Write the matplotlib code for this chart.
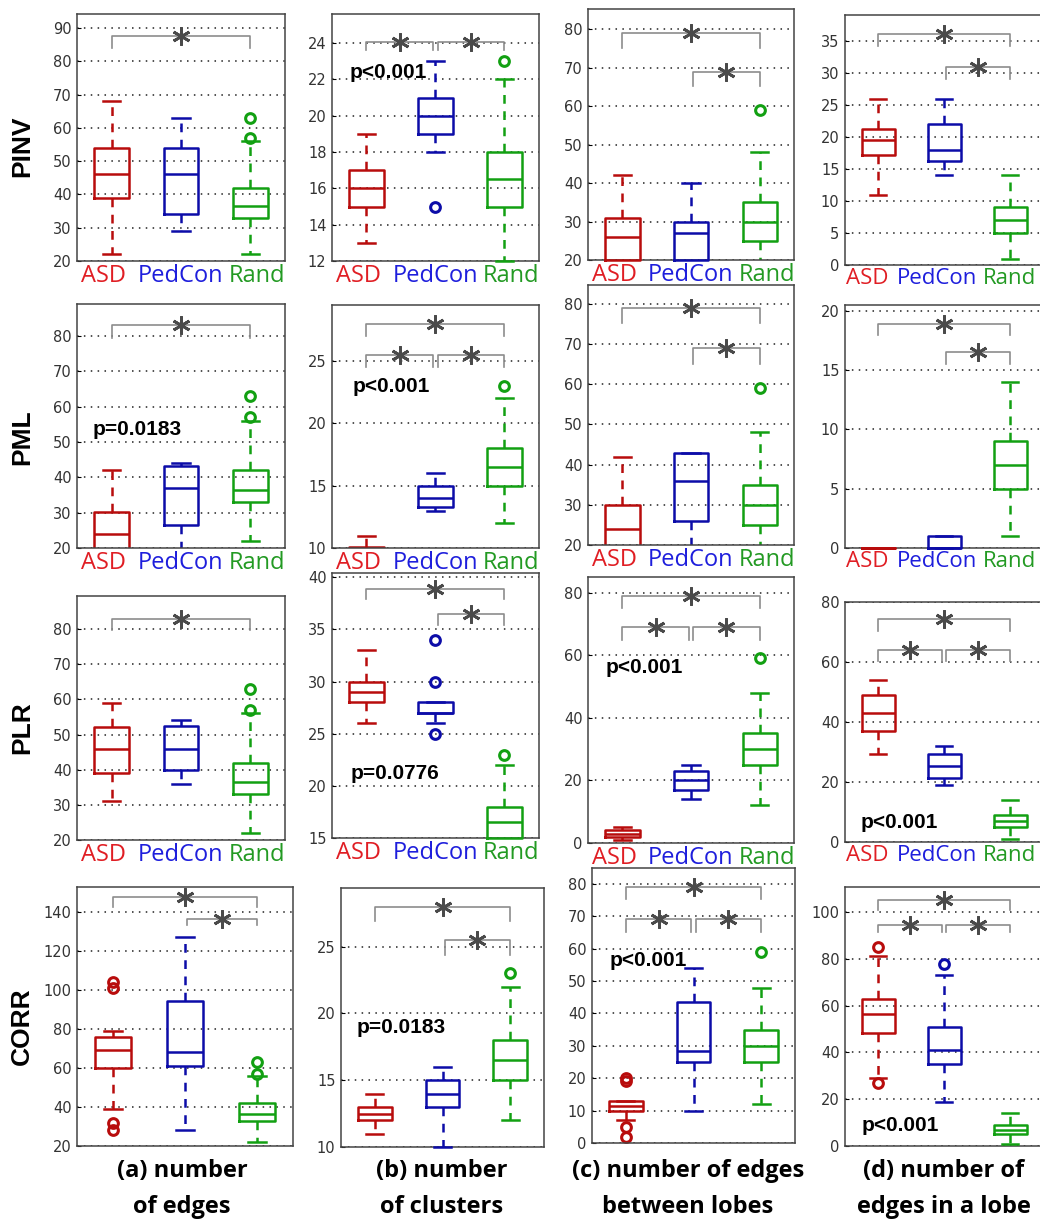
import matplotlib
matplotlib.use("Agg")
import matplotlib.pyplot as plt

groups = ["ASD", "PedCon", "Rand"]
methods = ["PINV", "PML", "PLR", "CORR"]
measure_titles = [("(a) number", "of edges"), ("(b) number", "of clusters"),
                  ("(c) number of edges", "between lobes"), ("(d) number of", "edges in a lobe")]

# box summaries per group: [whisker low, q1, median, q3, whisker high]
pinv_edges = [[22, 39, 46, 54, 68], [29, 34, 46, 54, 63], [22, 33, 36.5, 42, 56]]
pinv_clusters = [[13, 15, 16, 17, 19], [18, 19, 20, 21, 23], [12, 15, 16.5, 18, 22]]
pinv_between = [[14, 20, 26, 31, 42], [14, 20, 27, 30, 40], [12, 25, 30, 35, 48]]
pinv_inlobe = [[11, 17.2, 19.6, 21.2, 26], [14, 16.3, 18, 22, 26], [1, 5, 7, 9, 14]]
pml_edges = [[14, 18, 24, 30.3, 42], [16, 26.4, 37, 43.2, 44], [22, 33, 36.5, 42, 56]]
pml_clusters = [[8, 9, 9.5, 10.05, 11], [13, 13.3, 14, 15, 16], [12, 15, 16.5, 18, 22]]
pml_between = [[14, 18, 24, 30, 42], [16, 26, 36, 43, 43], [12, 25, 30, 35, 48]]
pml_inlobe = [[0, 0, 0, 0, 0], [0, 0, 0, 1, 1], [1, 5, 7, 9, 14]]
plr_edges = [[31, 39, 46, 52, 59], [36, 40, 46, 52.4, 54], [22, 33, 36.5, 42, 56]]
plr_clusters = [[26, 28, 29, 30, 33], [26, 27, 27, 28, 28], [12, 15, 16.5, 18, 22]]
plr_between = [[1, 2, 3, 4, 5], [14, 17, 20, 23, 25], [12, 25, 30, 35, 48]]
plr_inlobe = [[29.5, 37, 43, 49, 54], [19, 21.5, 25.5, 29.5, 32], [1, 5, 7, 9, 14]]
corr_edges = [[39, 60, 69, 76, 79], [28, 61, 68, 94.5, 127], [22, 33, 36.5, 42, 56]]
corr_clusters = [[11, 12, 12.5, 13, 14], [10, 13, 14, 15, 16], [12, 15, 16.5, 18, 22]]
corr_between = [[7, 10, 11.5, 13, 13], [10, 25, 28.5, 43.5, 54], [12, 25, 30, 35, 48]]
corr_inlobe = [[29, 48.5, 56.5, 63, 81], [19, 35, 41, 51, 73], [1, 5, 7, 9, 14]]

# outliers per group
pinv_edges_out = [[], [], [57, 63]]
pinv_clusters_out = [[], [15], [23]]
pinv_between_out = [[], [], [59]]
pinv_inlobe_out = [[], [], []]
pml_edges_out = [[], [], [57, 63]]
pml_clusters_out = [[], [], [23]]
pml_between_out = [[], [], [59]]
pml_inlobe_out = [[], [], []]
plr_edges_out = [[], [], [57, 63]]
plr_clusters_out = [[], [25, 30, 34], [23]]
plr_between_out = [[], [], [59]]
plr_inlobe_out = [[], [], []]
corr_edges_out = [[28, 32, 101, 104], [], [57, 63]]
corr_clusters_out = [[], [], [23]]
corr_between_out = [[2, 5, 19, 20], [], [59]]
corr_inlobe_out = [[27, 85], [78], []]

# y axis ranges and ticks
ylims = [[(20, 94.2), (12, 25.6), (20, 85.2), (0, 39.1)],
         [(20, 89), (10, 29.5), (20, 84.7), (0, 20.5)],
         [(20, 89.4), (15, 40.4), (0, 85), (0, 80)],
         [(20, 152.8), (10, 29.4), (0, 84.9), (0, 110.7)]]
yticks = [[range(20, 91, 10), range(12, 25, 2), range(20, 81, 10), range(0, 36, 5)],
          [range(20, 81, 10), range(10, 26, 5), range(20, 81, 10), range(0, 21, 5)],
          [range(20, 81, 10), range(15, 41, 5), range(0, 81, 20), range(0, 81, 20)],
          [range(20, 141, 20), range(10, 26, 5), range(0, 81, 10), range(0, 101, 20)]]

# significance brackets: (group a, group b, bar level, leg end)
brackets = [[[(1, 3, 87.7, 84)],
             [(1, 2, 24.05, 23.6), (2, 3, 24.05, 23.6)],
             [(1, 3, 78.9, 75), (2, 3, 68.9, 65.2)],
             [(1, 3, 36.1, 34.2), (2, 3, 31.0, 29.1)]],
            [[(1, 3, 83, 79.5)],
             [(1, 3, 28, 27), (1, 2, 25.5, 24.5), (2, 3, 25.5, 24.5)],
             [(1, 3, 78.9, 75.2), (2, 3, 69, 65.1)],
             [(1, 3, 18.9, 18), (2, 3, 16.5, 15.5)]],
            [[(1, 3, 83, 79.7)],
             [(1, 3, 38.9, 37.9), (2, 3, 36.5, 35.4)],
             [(1, 3, 78.9, 75), (1, 2, 69.1, 64.9), (2, 3, 69.1, 64.9)],
             [(1, 3, 74.3, 70.2), (1, 2, 64.1, 60.5), (2, 3, 64.1, 60.5)]],
            [[(1, 3, 147.5, 142.4), (2, 3, 136.6, 133.1)],
             [(1, 3, 28, 26.9), (2, 3, 25.5, 24.4)],
             [(1, 3, 79, 75.3), (1, 2, 69.1, 65), (2, 3, 69.1, 65)],
             [(1, 3, 105, 100.7), (1, 2, 94.6, 91.3), (2, 3, 94.6, 91.3)]]]

# p-value notes: (row, col) -> text, axes-fraction x, y
pvalues = {(0, 1): ("p<0.001", 0.087, 0.765),
           (1, 0): ("p=0.0183", 0.077, 0.484),
           (1, 1): ("p<0.001", 0.10, 0.663),
           (2, 1): ("p=0.0776", 0.092, 0.245),
           (2, 2): ("p<0.001", 0.087, 0.658),
           (2, 3): ("p<0.001", 0.081, 0.083),
           (3, 1): ("p=0.0183", 0.079, 0.46),
           (3, 2): ("p<0.001", 0.089, 0.665),
           (3, 3): ("p<0.001", 0.086, 0.081)}

panels = [[pinv_edges, pinv_clusters, pinv_between, pinv_inlobe],
          [pml_edges, pml_clusters, pml_between, pml_inlobe],
          [plr_edges, plr_clusters, plr_between, plr_inlobe],
          [corr_edges, corr_clusters, corr_between, corr_inlobe]]
panel_out = [[pinv_edges_out, pinv_clusters_out, pinv_between_out, pinv_inlobe_out],
             [pml_edges_out, pml_clusters_out, pml_between_out, pml_inlobe_out],
             [plr_edges_out, plr_clusters_out, plr_between_out, plr_inlobe_out],
             [corr_edges_out, corr_clusters_out, corr_between_out, corr_inlobe_out]]

# axes boxes in pixels: left, top, right, bottom
boxes_px = [[(77, 14, 285, 261), (332, 14, 539, 261), (588, 9, 794, 260), (845, 15, 1043, 265)],
            [(77, 304, 285, 548), (332, 305, 539, 548), (588, 285, 794, 545), (845, 305, 1043, 548)],
            [(77, 596, 285, 840), (332, 573, 539, 838), (588, 577, 794, 843), (845, 602, 1043, 842)],
            [(77, 887, 293, 1146), (341, 888, 544, 1147), (592, 868, 795, 1143), (845, 887, 1043, 1146)]]

line_colors = ["#b80c0c", "#0c0ca8", "#12a012"]
label_colors = ["#e01e24", "#1e1edc", "#239a23"]
W, H = 1040, 1220

fig = plt.figure(figsize=(W / 100, H / 100), dpi=100)

for r in range(4):
    for c in range(4):
        l, t, rg, b = boxes_px[r][c]
        ax = fig.add_axes([l / W, 1 - b / H, (rg - l) / W, (b - t) / H])
        stats = []
        for s, o in zip(panels[r][c], panel_out[r][c]):
            stats.append(dict(whislo=s[0], q1=s[1], med=s[2], q3=s[3], whishi=s[4], fliers=o))
        bp = ax.bxp(stats, positions=[1, 2, 3], widths=0.5, capwidths=0.25, showfliers=True)
        for k, col in enumerate(line_colors):
            bp["boxes"][k].set(color=col, lw=1.8)
            bp["medians"][k].set(color=col, lw=1.8)
            for w in bp["whiskers"][2 * k:2 * k + 2]:
                w.set(color=col, lw=1.8, linestyle=(0, (3.5, 3)))
            for cp in bp["caps"][2 * k:2 * k + 2]:
                cp.set(color=col, lw=1.8)
            bp["fliers"][k].set(marker="o", markerfacecolor="none", markeredgecolor=col,
                                markersize=7, markeredgewidth=2.2)
        # lines sitting on the lower limit stay fully visible
        ybot = ylims[r][c][0]
        for key in ["boxes", "medians", "whiskers", "caps"]:
            for ln in bp[key]:
                if min(ln.get_ydata()) >= ybot - 1e-9:
                    ln.set_clip_on(False)
                    ln.set_zorder(3)

        for g1, g2, top, leg in brackets[r][c]:
            x1 = g1 + (0.03 if g1 == 2 else 0)
            x2 = g2 - (0.03 if g2 == 2 else 0)
            ax.plot([x1, x1, x2, x2], [leg, top, top, leg], color="#8c8c8c", lw=1.2, zorder=4)
            ax.plot((x1 + x2) / 2, top, marker=(6, 2, 0), markersize=13, markeredgewidth=2,
                    color="#4a4a4a", zorder=5)

        if (r, c) in pvalues:
            txt, fx, fy = pvalues[(r, c)]
            ax.text(fx, fy, txt, transform=ax.transAxes, ha="left", va="center",
                    fontsize=15, fontweight="bold", family="Liberation Sans", zorder=6)

        ax.set_xlim(0.5, 3.5)
        ax.set_ylim(*ylims[r][c])
        ax.set_yticks(list(yticks[r][c]))
        ax.yaxis.grid(True, linestyle=(0, (1, 3.5)), color="#222222", lw=1.1)
        ax.set_axisbelow(True)
        ax.tick_params(axis="y", direction="in", length=3, labelsize=10.5,
                       labelcolor="#333333", pad=4)
        for sp in ax.spines.values():
            sp.set_color("#444444")
            sp.set_linewidth(1.1)
        if r < 3:
            if c == 3:
                ax.set_xticks([0.83, 1.9, 2.99])
                ax.set_xticklabels(groups, fontsize=16, family="Open Sans")
            else:
                ax.set_xticks([0.885, 2.0, 3.1])
                ax.set_xticklabels(groups, fontsize=17, family="Open Sans")
            for lab, col in zip(ax.get_xticklabels(), label_colors):
                lab.set_color(col)
            ax.tick_params(axis="x", length=0, pad=2)
        else:
            ax.set_xticks([])

row_centers = [146, 437, 728, 1026]
for name, yc in zip(methods, row_centers):
    fig.text(22 / W, 1 - yc / H, name, rotation=90, ha="center", va="center",
             fontsize=19, fontweight="bold", family="Liberation Sans")

col_centers = [182, 442, 688, 944]
for (l1, l2), xc in zip(measure_titles, col_centers):
    fig.text(xc / W, 1 - 1171 / H, l1, ha="center", va="center", fontsize=17,
             fontweight="bold", family="Open Sans")
    fig.text(xc / W, 1 - 1207 / H, l2, ha="center", va="center", fontsize=17,
             fontweight="bold", family="Open Sans")

fig.savefig("out.png", dpi=100)
